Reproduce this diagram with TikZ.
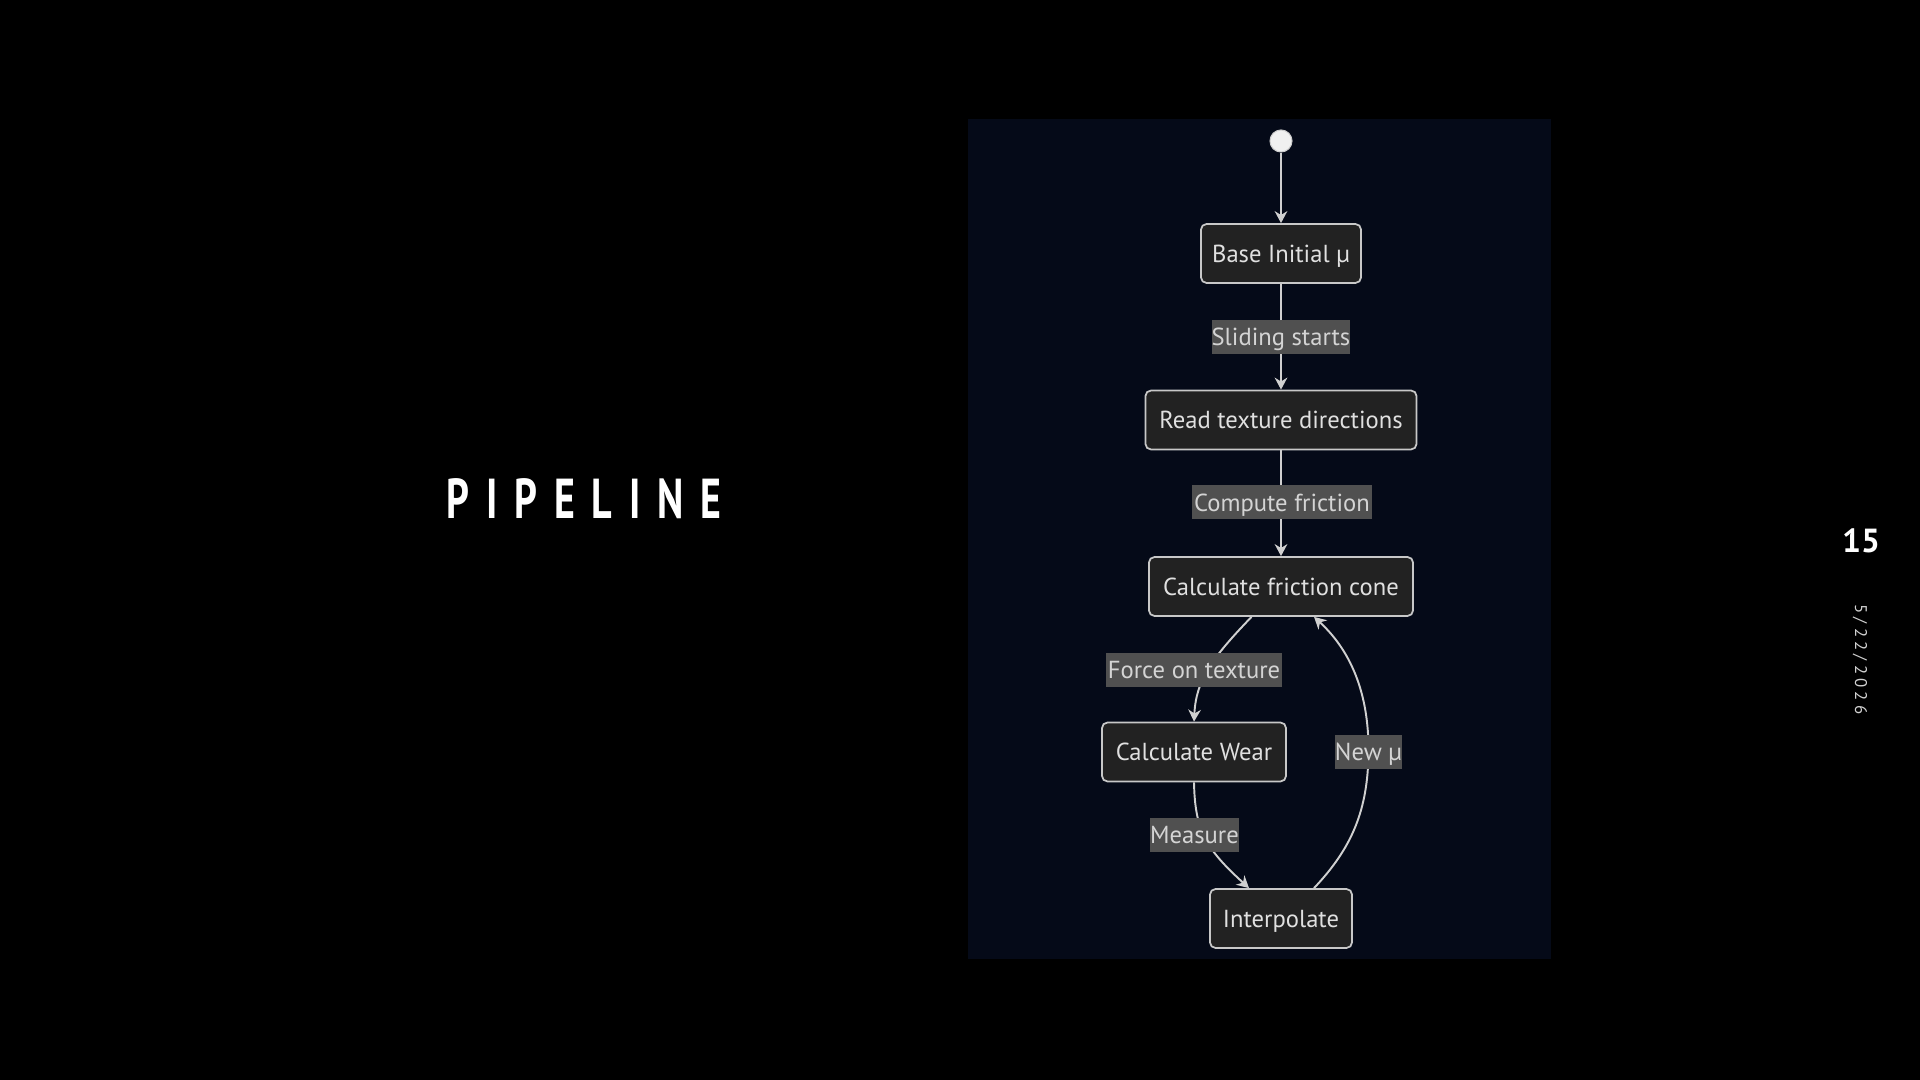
\documentclass[tikz,border=0pt]{standalone}
\usepackage{fontspec}
\setmainfont{PT Sans}
\newfontfamily\titlefont[LetterSpace=42]{PT Sans}
\newfontfamily\datefont[LetterSpace=25]{PT Sans}
\usetikzlibrary{arrows.meta}
\definecolor{panelbg}{HTML}{050A18}
\definecolor{boxfill}{HTML}{222222}
\definecolor{boxline}{HTML}{C8C8C8}
\definecolor{lblfill}{HTML}{505050}
\definecolor{lbltext}{HTML}{D4D4D4}
\definecolor{edgecol}{HTML}{D0D0D0}
\pgfdeclarelayer{bg}
\pgfdeclarelayer{edges}
\pgfsetlayers{bg,edges,main}
\begin{document}
\begin{tikzpicture}[x=0.01cm,y=-0.01cm,
  statebox/.style={draw=boxline, line width=0.5pt, fill=boxfill, rounded corners=1.6pt,
    text=white!88!black, font=\fontsize{7}{8}\selectfont, minimum height=0.59cm, inner sep=0pt,
    text height=5pt, text depth=0pt},
  edgelbl/.style={fill=lblfill, text=lbltext, font=\fontsize{7}{8}\selectfont,
    minimum height=0.34cm, inner sep=0pt, text height=5pt, text depth=0pt},
  flow/.style={draw=edgecol, line width=0.55pt, -{Stealth[length=3.4pt,width=3.6pt]}},
]
\begin{pgfonlayer}{bg}
\fill[black] (0,0) rectangle (1920,1080);
\fill[panelbg] (968,119) rectangle (1551,959);
\end{pgfonlayer}
\useasboundingbox (0,0) rectangle (1920,1080);

% title and slide marks
\node[text=white, font=\titlefont\bfseries\fontsize{16}{18}\selectfont] (title) at (584,498.5) {\scalebox{0.71}[1]{PIPELINE}};
\node[text=white, font=\bfseries\fontsize{9.5}{11}\selectfont] (pnum) at (1861,541) {15};
\node[text=white!82!black, rotate=-90, font=\datefont\fontsize{4.8}{6}\selectfont] (date) at (1860,659.5) {5/22/2026};

% states
\node[circle, fill=white!94!black, draw=white!80!black, line width=0.3pt, minimum size=0.22cm, inner sep=0pt] (start) at (1281,141) {};
\node[statebox, minimum width=1.60cm] (base) at (1281,253.5) {Base Initial µ};
\node[statebox, minimum width=2.71cm] (read) at (1281,420) {Read texture directions};
\node[statebox, minimum width=2.64cm] (cone) at (1281,586.5) {Calculate friction cone};
\node[statebox, minimum width=1.84cm] (wear) at (1194,752) {Calculate Wear};
\node[statebox, minimum width=1.42cm] (interp) at (1281,918.5) {Interpolate};

% edge labels
\node[edgelbl, minimum width=1.36cm] (l1) at (1281,337) {Sliding starts};
\node[edgelbl, minimum width=1.79cm] (l2) at (1282,502.5) {Compute friction};
\node[edgelbl, minimum width=1.76cm] (l3) at (1194,670) {Force on texture};
\node[edgelbl, minimum width=0.87cm] (l4) at (1194.5,835) {Measure};
\node[edgelbl, minimum width=0.65cm] (l5) at (1368.5,752) {New µ};

% connectors
\begin{pgfonlayer}{edges}
\draw[flow] (start) -- (base);
\draw[flow] (base) -- (read);
\draw[flow] (read) -- (cone);
\draw[flow] ([xshift=-0.295cm]cone.south) .. controls (1212,658) and (1196,680) .. (wear.north);
\draw[flow] (wear.south) .. controls (1195,830) and (1205,848) .. ([xshift=-0.32cm]interp.north);
\draw[flow] ([xshift=0.33cm]interp.north) .. controls (1352,848) and (1368,810) .. (l5.center)
   .. controls (1369,692) and (1350,650) .. ([xshift=0.33cm]cone.south);
\end{pgfonlayer}
\end{tikzpicture}
\end{document}
